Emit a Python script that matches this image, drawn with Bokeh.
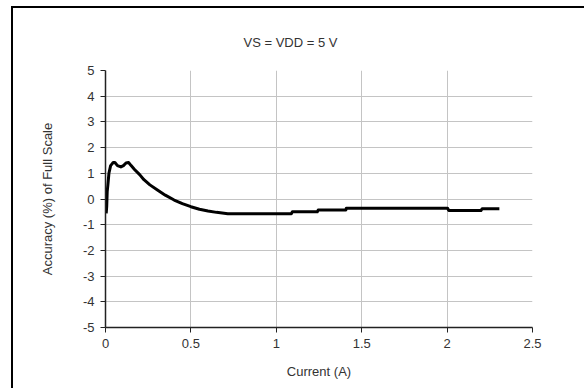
from bokeh.plotting import figure
from bokeh.models import Range1d, FixedTicker, InlineStyleSheet
from bokeh.embed import file_html
from bokeh.resources import INLINE

title_text = "VS = VDD = 5 V"
x_label = "Current (A)"
y_label = "Accuracy (%) of Full Scale"

x_ticks = [0, 0.5, 1, 1.5, 2, 2.5]
x_tick_labels = ["0", "0.5", "1", "1.5", "2", "2.5"]
y_ticks = [-5, -4, -3, -2, -1, 0, 1, 2, 3, 4, 5]
y_tick_labels = ["-5", "-4", "-3", "-2", "-1", "0", "1", "2", "3", "4", "5"]

current = [0.004, 0.007, 0.010, 0.014, 0.020, 0.030, 0.045, 0.055, 0.070,
           0.090, 0.105, 0.120, 0.135, 0.150, 0.170, 0.200, 0.225, 0.260,
           0.304, 0.350, 0.402, 0.450, 0.500, 0.550, 0.600, 0.650, 0.716,
           0.800, 0.900, 1.000, 1.088, 1.094, 1.240, 1.245, 1.407, 1.410,
           2.003, 2.010, 2.198, 2.205, 2.306]
accuracy = [-0.56, -0.30, 0.30, 0.55, 1.00, 1.30, 1.42, 1.42, 1.30,
            1.25, 1.30, 1.40, 1.42, 1.30, 1.15, 0.95, 0.75, 0.55,
            0.35, 0.15, -0.04, -0.18, -0.30, -0.40, -0.47, -0.52, -0.57,
            -0.57, -0.57, -0.57, -0.57, -0.50, -0.50, -0.43, -0.43, -0.36,
            -0.36, -0.45, -0.45, -0.38, -0.38]

FONT = "Liberation Sans"

p = figure(width=584, height=388, output_backend="svg", toolbar_location=None,
           x_range=Range1d(0, 2.5), y_range=Range1d(-5, 5),
           min_border_left=105, min_border_right=52,
           min_border_top=70, min_border_bottom=61,
           title=title_text)
# outer frame lines (left and top) drawn behind the transparent canvas border
p.stylesheets = [InlineStyleSheet(css="""
:host {
  background-color: white;
  background-image: linear-gradient(black, black), linear-gradient(black, black);
  background-size: 2px 100%, 100% 2px;
  background-position: 11px 6px, 11px 6px;
  background-repeat: no-repeat;
}
""")]
p.background_fill_color = "white"
p.border_fill_color = None
p.outline_line_color = None

p.title.align = "left"
p.title.offset = 138
p.title.standoff = 42
p.title.text_font = FONT
p.title.text_font_size = "13px"
p.title.text_font_style = "normal"
p.title.text_color = "#333333"

p.line(current, accuracy, line_color="black", line_width=3, line_join="round")

for ax in (p.xaxis, p.yaxis):
    ax.axis_line_color = "#222222"
    ax.axis_line_width = 1.5
    ax.major_tick_line_color = "#222222"
    ax.major_tick_out = 5
    ax.major_tick_in = 0
    ax.minor_tick_line_color = None
    ax.major_label_text_font = FONT
    ax.major_label_text_font_size = "13px"
    ax.major_label_text_color = "#333333"
    ax.axis_label_text_font = FONT
    ax.axis_label_text_font_size = "13px"
    ax.axis_label_text_font_style = "normal"
    ax.axis_label_text_color = "#333333"

p.xaxis.ticker = FixedTicker(ticks=x_ticks)
p.xaxis.major_label_overrides = dict(zip(x_ticks, x_tick_labels))
p.yaxis.ticker = FixedTicker(ticks=y_ticks)
p.yaxis.major_label_overrides = dict(zip(y_ticks, y_tick_labels))
p.xaxis.axis_label = x_label
p.yaxis.axis_label = y_label
p.xaxis.major_label_standoff = 6
p.xaxis.axis_label_standoff = 13
p.yaxis.major_label_standoff = 6
p.yaxis.axis_label_standoff = 25

p.xgrid.grid_line_color = "#c4c4c4"
p.ygrid.grid_line_color = "#c4c4c4"
p.xgrid.grid_line_width = 1
p.ygrid.grid_line_width = 1

open("out.html", "w").write(file_html(p, INLINE))
